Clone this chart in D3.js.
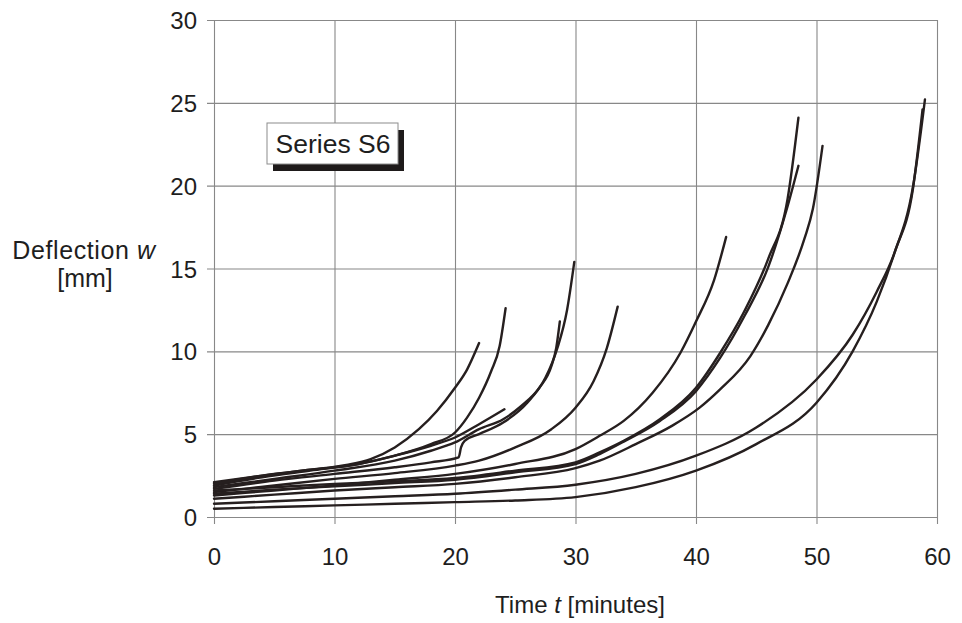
<!DOCTYPE html>
<html>
<head>
<meta charset="utf-8">
<script src="https://cdn.jsdelivr.net/npm/d3@7"></script>
<style>
  html, body { margin: 0; padding: 0; background: #fff; }
  svg { display: block; font-family: "Liberation Sans", Arial, Helvetica, sans-serif; }
</style>
</head>
<body>
<svg id="chart" width="962" height="623"></svg>
<script>
// Deflection–time records of the S6 specimens: [time t (min), deflection w (mm)]
const specimen1  = [[0,2.1],[4,2.5],[8,2.85],[11,3.15],[13,3.5],[15,4.2],[17,5.3],[18.5,6.4],[20,7.8],[21,8.9],[22,10.5]];
const specimen2  = [[0,1.9],[4,2.4],[8,2.8],[12,3.2],[15,3.7],[18,4.4],[20,5.1],[21,6.0],[22,7.2],[23,8.8],[23.7,10.3],[24.2,12.6]];
const specimen3  = [[0,2.0],[4,2.5],[8,2.85],[12,3.2],[15,3.7],[18,4.3],[20,4.8],[22,5.6],[24.1,6.5]];
const specimen4  = [[0,1.8],[5,2.3],[10,2.8],[15,3.4],[18,4.0],[20,4.5],[22,5.3],[24,5.9],[25.5,6.7],[27,7.8],[28,9.1],[28.4,10.2],[28.7,11.8]];
const specimen5  = [[0,1.7],[5,2.2],[10,2.6],[15,3.0],[18,3.3],[20.3,3.6],[20.5,4.2],[20.8,4.6],[22,5.0],[24,5.7],[26,6.9],[27.5,8.4],[28.5,10.2],[29.3,12.5],[29.9,15.4]];
const specimen6  = [[0,1.5],[5,1.9],[10,2.3],[15,2.65],[20,3.1],[22,3.4],[25,4.2],[28,5.3],[30,6.6],[31.5,8.2],[32.6,10.2],[33.5,12.7]];
const specimen7  = [[0,1.3],[5,1.6],[10,1.9],[15,2.25],[20,2.6],[25,3.2],[30,4.1],[32,4.9],[34,5.8],[36.4,7.5],[38.7,9.9],[40,11.8],[41.5,14.3],[42.5,16.9]];
const specimen8  = [[0,1.6],[5,1.8],[10,2.0],[15,2.15],[20,2.35],[25,2.8],[30,3.3],[32,3.9],[34,4.6],[37,5.9],[40,7.8],[42,9.9],[44,12.4],[46,15.6],[47.6,19.2],[48.5,24.1]];
const specimen9  = [[0,1.4],[5,1.65],[10,1.85],[15,2.05],[20,2.25],[25,2.7],[30,3.2],[32,3.8],[34,4.55],[37,5.8],[40,7.6],[42,9.6],[44,12.1],[46,15.1],[47.5,18.5],[48.5,21.2]];
const specimen10 = [[0,1.1],[5,1.35],[10,1.6],[15,1.8],[20,2.0],[25,2.4],[30,2.95],[32,3.4],[35,4.4],[38,5.5],[40.3,6.6],[42,7.7],[44.5,9.7],[46,11.6],[47.6,14.1],[49,16.8],[49.7,18.6],[50.5,22.4]];
const specimen11 = [[0,0.8],[5,0.95],[10,1.1],[15,1.25],[20,1.4],[25,1.65],[30,1.95],[35,2.6],[40,3.7],[45,5.4],[50,8.3],[53,11.0],[55,13.6],[56.5,16.0],[58,19.9],[59,25.2]];
const specimen12 = [[0,0.5],[5,0.6],[10,0.7],[15,0.8],[20,0.9],[25,1.0],[30,1.2],[35,1.8],[40,2.8],[45,4.4],[50,6.9],[53,10.0],[55,13.0],[56.5,16.0],[58,19.8],[58.8,24.6]];

const specimens = [specimen1, specimen2, specimen3, specimen4, specimen5, specimen6,
                   specimen7, specimen8, specimen9, specimen10, specimen11, specimen12];

const xTicks = [0, 10, 20, 30, 40, 50, 60];
const yTicks = [0, 5, 10, 15, 20, 25, 30];
const seriesLabel = "Series S6";

const svg = d3.select("#chart");
const plotLeft = 214, plotRight = 937, plotTop = 20, plotBottom = 517;
const tickOut = 7;

const x = d3.scaleLinear().domain([0, 60]).range([plotLeft, plotRight]);
const y = d3.scaleLinear().domain([0, 30]).range([plotBottom, plotTop]);

const gridColor = "#888";
const inkColor = "#261f1f";
const textColor = "#1e1e1e";

// Vertical grid lines with short ticks below the plot, plus x labels
const xAxis = svg.append("g")
  .attr("transform", `translate(0,${plotBottom + tickOut})`)
  .call(d3.axisBottom(x).tickValues(xTicks)
    .tickSizeInner(-(plotBottom - plotTop + tickOut)).tickSizeOuter(0).tickPadding(0));
xAxis.select(".domain").remove();
xAxis.selectAll(".tick line").attr("stroke", gridColor).attr("stroke-width", 1.1);
xAxis.selectAll(".tick text")
  .attr("y", 41).attr("dy", 0)
  .attr("fill", textColor).style("font-size", "24px");

// Horizontal grid lines with short ticks left of the plot, plus y labels
const yAxis = svg.append("g")
  .attr("transform", `translate(${plotLeft - tickOut},0)`)
  .call(d3.axisLeft(y).tickValues(yTicks)
    .tickSizeInner(-(plotRight - plotLeft + tickOut)).tickSizeOuter(0).tickPadding(10));
yAxis.select(".domain").remove();
yAxis.selectAll(".tick line").attr("stroke", gridColor).attr("stroke-width", 1.1);
yAxis.selectAll(".tick text")
  .attr("dy", "0.36em")
  .attr("fill", textColor).style("font-size", "24px");

// Curves
const line = d3.line()
  .x(d => x(d[0]))
  .y(d => y(d[1]))
  .curve(d3.curveMonotoneX);

svg.append("g").selectAll("path")
  .data(specimens)
  .join("path")
  .attr("d", line)
  .attr("fill", "none")
  .attr("stroke", inkColor)
  .attr("stroke-width", 2.4)
  .attr("stroke-linejoin", "round")
  .attr("stroke-linecap", "round");

// Series label box with drop shadow
const box = svg.append("g").attr("transform", "translate(267,123)");
box.append("rect").attr("x", 6).attr("y", 7).attr("width", 131).attr("height", 41).attr("fill", "#1e1a1a");
box.append("rect").attr("x", 0).attr("y", 0).attr("width", 131).attr("height", 41)
  .attr("fill", "#fff").attr("stroke", "#8c8c8c").attr("stroke-width", 1);
box.append("text").attr("x", 66).attr("y", 30).attr("text-anchor", "middle")
  .attr("fill", textColor).style("font-size", "26.5px").text(seriesLabel);

// Axis titles
const yTitle = svg.append("text").attr("text-anchor", "middle").attr("fill", textColor).style("font-size", "25px");
yTitle.append("tspan").attr("x", 84).attr("y", 259).attr("letter-spacing", "0.6").text("Deflection ")
  .append("tspan").style("font-style", "italic").text("w");
yTitle.append("tspan").attr("x", 85).attr("y", 287).text("[mm]");

const xTitle = svg.append("text").attr("x", 580).attr("y", 613).attr("text-anchor", "middle")
  .attr("fill", textColor).style("font-size", "24px");
xTitle.append("tspan").text("Time ");
xTitle.append("tspan").style("font-style", "italic").text("t");
xTitle.append("tspan").text(" [minutes]");
</script>
</body>
</html>
